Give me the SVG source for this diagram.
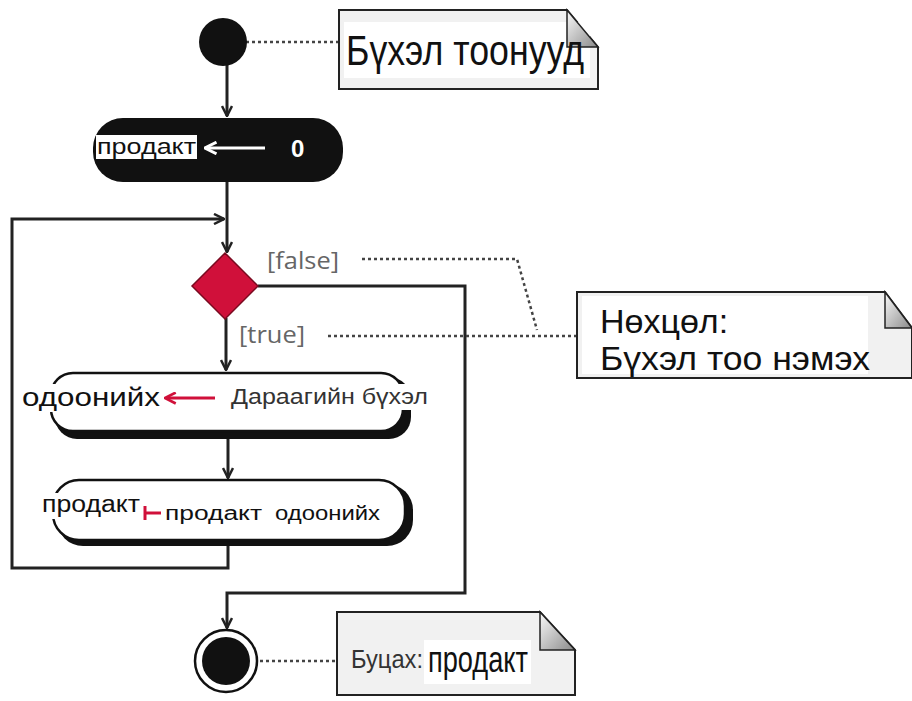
<svg xmlns="http://www.w3.org/2000/svg" width="912" height="701" viewBox="0 0 912 701">
<style>
.t{font-family:"Liberation Sans",Arial,sans-serif;fill:#111}
.g{font-family:"Open Sans","Liberation Sans",sans-serif;fill:#666;font-size:24px}
.ln{fill:none;stroke:#222;stroke-width:3}
.dot{fill:none;stroke:#444;stroke-width:2.5;stroke-dasharray:3 3}
.note{fill:#f1f1f1;stroke:#222;stroke-width:2}
.act{fill:#fff;stroke:#111;stroke-width:2.5}
.sh{fill:#111}
</style>
<defs>
<marker id="ah" viewBox="0 0 12 12" refX="11" refY="6" markerWidth="12" markerHeight="12" markerUnits="userSpaceOnUse" orient="auto">
<path d="M1,1 L11,6 L1,11" fill="none" stroke="#222" stroke-width="2.5"/>
</marker>
<marker id="rh" viewBox="0 0 12 12" refX="10" refY="6" markerWidth="13" markerHeight="13" markerUnits="userSpaceOnUse" orient="auto">
<path d="M1,1 L11,6 L1,11" fill="none" stroke="#d0103a" stroke-width="2.5"/>
</marker>
<marker id="wh" viewBox="0 0 12 12" refX="10" refY="6" markerWidth="14" markerHeight="14" markerUnits="userSpaceOnUse" orient="auto">
<path d="M1,1 L11,6 L1,11" fill="none" stroke="#fff" stroke-width="2.5"/>
</marker>
<linearGradient id="fold" x1="0" y1="0" x2="1" y2="1">
<stop offset="0" stop-color="#fafafa"/><stop offset="1" stop-color="#8a8a8a"/>
</linearGradient>
</defs>

<g id="connectors">
<line class="ln" x1="227" y1="64" x2="227" y2="116" marker-end="url(#ah)"/>
<line class="ln" x1="227" y1="182" x2="227" y2="252" marker-end="url(#ah)"/>
<polyline class="ln" points="228,545 228,568 12,568 12,219 224,219" marker-end="url(#ah)"/>
<line class="ln" x1="226" y1="318" x2="226" y2="370" marker-end="url(#ah)"/>
<line class="ln" x1="228" y1="436" x2="228" y2="478" marker-end="url(#ah)"/>
<polyline class="ln" points="258,286 465,286 465,593 227,593 227,628" marker-end="url(#ah)"/>
<line class="dot" x1="246" y1="42" x2="339" y2="42"/>
<polyline class="dot" points="362,259 517,259 537,330"/>
<line class="dot" x1="328" y1="336" x2="577" y2="336"/>
<line class="dot" x1="260" y1="661" x2="337" y2="661"/>
</g>

<g id="start">
<circle cx="223" cy="42" r="24" fill="#111"/>
</g>

<g id="note1">
<path class="note" d="M339,10 H567 L598,47 V89 H339 Z"/>
<rect x="344" y="22" width="246" height="56" fill="#fff"/>
<path d="M567,10 V47 H598 Z" fill="url(#fold)" stroke="#222" stroke-width="1.5"/>
<text class="t" x="346" y="65" font-size="43" textLength="238" lengthAdjust="spacingAndGlyphs">Бүхэл тоонууд</text>
</g>

<g id="init">
<rect x="93" y="118" width="250" height="64" rx="30" fill="#111"/>
<rect x="96" y="135" width="101" height="24" fill="#fff"/>
<text class="t" x="97" y="154" font-size="22" textLength="99" lengthAdjust="spacingAndGlyphs">продакт</text>
<line x1="265" y1="148" x2="206" y2="148" stroke="#fff" stroke-width="3" marker-end="url(#wh)"/>
<text x="291" y="157" font-family="Liberation Sans,Arial,sans-serif" font-weight="bold" font-size="24" fill="#fff">0</text>
</g>

<g id="decision">
<path d="M225,253 L258,286 L225,319 L192,286 Z" fill="#d0103a" stroke="#7a0a20" stroke-width="1.5"/>
<text class="g" x="267" y="269" textLength="72" lengthAdjust="spacingAndGlyphs">[false]</text>
<text class="g" x="239" y="343" textLength="66" lengthAdjust="spacingAndGlyphs">[true]</text>
</g>

<g id="note2">
<path class="note" d="M577,292 H885 L912,328 V378 H577 Z"/>
<rect x="582" y="296" width="286" height="78" fill="#fff"/>
<path d="M885,292 V328 H912 Z" fill="url(#fold)" stroke="#222" stroke-width="1.5"/>
<text class="t" x="600" y="333" font-size="34">Нөхцөл:</text>
<text class="t" x="600" y="370" font-size="34" textLength="270" lengthAdjust="spacingAndGlyphs">Бүхэл тоо нэмэх</text>
</g>

<g id="action1">
<rect class="sh" x="55" y="377" width="356" height="62" rx="22"/>
<rect class="act" x="51" y="373" width="352" height="58" rx="22"/>
<rect x="20" y="384" width="142" height="28" fill="#fff"/>
<rect x="230" y="384" width="200" height="26" fill="#fff"/>
<text class="t" x="22" y="406" font-size="26" textLength="138" lengthAdjust="spacingAndGlyphs">одоонийх</text>
<line x1="215" y1="398" x2="166" y2="398" stroke="#d0103a" stroke-width="3" marker-end="url(#rh)"/>
<text class="t" x="231" y="404" font-size="22" textLength="197" lengthAdjust="spacingAndGlyphs" style="fill:#333">Дараагийн бүхэл</text>
</g>

<g id="action2">
<rect class="sh" x="57" y="484" width="356" height="62" rx="26"/>
<rect class="act" x="53" y="480" width="352" height="60" rx="26"/>
<rect x="40" y="493" width="102" height="26" fill="#fff"/>
<text class="t" x="42" y="512" font-size="23" textLength="98" lengthAdjust="spacingAndGlyphs">продакт</text>
<line x1="161" y1="513" x2="145" y2="513" stroke="#d0103a" stroke-width="3"/>
<line x1="145" y1="506" x2="145" y2="520" stroke="#d0103a" stroke-width="3"/>
<text class="t" x="165" y="520" font-size="20" textLength="97" lengthAdjust="spacingAndGlyphs">продакт</text>
<text class="t" x="275" y="520" font-size="20" textLength="105" lengthAdjust="spacingAndGlyphs">одоонийх</text>
</g>

<g id="final">
<circle cx="226" cy="661" r="31" fill="#fff" stroke="#111" stroke-width="2.5"/>
<circle cx="226" cy="661" r="24" fill="#111"/>
</g>

<g id="note3">
<path class="note" d="M337,612 H540 L575,650 V695 H337 Z"/>
<path d="M540,612 V650 H575 Z" fill="url(#fold)" stroke="#222" stroke-width="1.5"/>
<rect x="424" y="640" width="107" height="44" fill="#fff"/>
<text class="t" x="351" y="668" font-size="26" textLength="72" lengthAdjust="spacingAndGlyphs" style="fill:#333">Буцах:</text>
<text class="t" x="428" y="672" font-size="36" textLength="100" lengthAdjust="spacingAndGlyphs">продакт</text>
</g>
</svg>
